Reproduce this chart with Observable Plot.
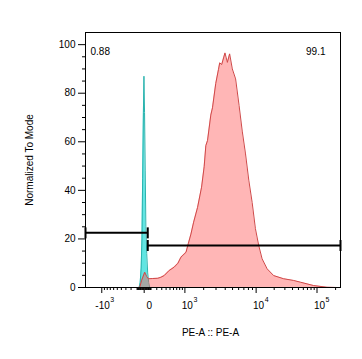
<!DOCTYPE html>
<html><head><meta charset="utf-8">
<script src="https://cdn.jsdelivr.net/npm/d3@7"></script>
<script src="https://cdn.jsdelivr.net/npm/@observablehq/plot@0.6"></script>
<style>html,body{margin:0;padding:0;background:#fff;} svg{display:block;}</style>
</head><body><div id="chart"></div>
<script>
// PE-A intensity (x) and % of mode (y) — stained sample
const redX = [-61,-33,7,35,57,128,219,280,354,478,622,741,847,1046,1144,1268,1402,1618,1860,2032,2151,2276,2536,2679,2975,3240,3374,3590,3973,4274,4581,4968,5480,6077,6675,7349,8085,8918,9800,11059,12610,15274,19642,28670,41741,53640,88128,145104,210384];
const redY = [0,3,6.3,4.5,3.6,3.7,3.8,4.2,4.9,7,8.4,10,12.5,14.5,18,22,26.9,33,41.3,49.7,58.4,60.5,71,74,84,89.7,92.5,91.8,96.6,92.7,96.2,90,85.9,75,64.4,55,44.2,35,24.2,17.3,11.8,7.7,4.9,3.6,2.9,2.2,0.8,0.1,0];
// unstained control
const cyanX = [-69,-54,-40,-29,-20,-10,-3,5,14,23,35,49,64,80];
const cyanY = [0,2,8,20,45,72,87,72,48,25,14,6,2,0];

// gates
const gatePct = ["0.88","99.1"];
const gateLo = [-1800, 50];
const gateHi = [50, 240000];
const gateY = [22.5, 17.3];

// axes
const xDomainValues = [-1800, 240000];
const xMajorTicks = [-1000, 0, 1000, 10000, 100000];
const xMajorBase = ["-10", "0", "10", "10", "10"];
const xMajorExp = ["3", "", "3", "4", "5"];
const xMinorTicks = [
  -900,-800,-700,-600,-500,-400,-300,-200,-100,-90,-80,-70,-60,-50,-40,-30,-20,-10,
  10,20,30,40,50,60,70,80,90,100,200,300,400,500,600,700,800,900,
  2000,3000,4000,5000,6000,7000,8000,9000,
  20000,30000,40000,50000,60000,70000,80000,90000,200000];
const yMajorTicks = [0,20,40,60,80,100];
const yMinorTicks = [5,10,15,25,30,35,45,50,55,65,70,75,85,90,95];
const xLabel = "PE-A :: PE-A";
const yLabel = "Normalized To Mode";

// biexponential-like display transform (FlowJo style axis calibration)
const C = 480;
const g = v => Math.sign(v) * Math.log10(1 + Math.abs(v) / C);
const anchors = [[-1000,-42.5],[0,0],[1000,40.8],[1e4,112.2],[1e5,173.2]].map(([v,u]) => [g(v), u]);
function T(v) {
  const G = g(v);
  let i = 0;
  while (i < anchors.length - 2 && G > anchors[i+1][0]) i++;
  const [g0,u0] = anchors[i], [g1,u1] = anchors[i+1];
  return u0 + (G - g0) * (u1 - u0) / (g1 - g0);
}

const red = redX.map((v,i) => ({t: T(v), y: redY[i]}));
const cyan = cyanX.map((v,i) => ({t: T(v), y: cyanY[i]}));
const gates = gatePct.map((p,i) => ({lo: T(gateLo[i]), hi: T(gateHi[i]), y: gateY[i]}));
const gateEnds = gates.flatMap(d => [{t: d.lo, y: d.y}, {t: d.hi, y: d.y}]);
const vbar = {draw(ctx, size) { const r = Math.sqrt(size / Math.PI); ctx.moveTo(0, -r); ctx.lineTo(0, r); }};
const xLabelsData = xMajorTicks.map((v,i) => ({t: T(v), base: xMajorBase[i], exp: xMajorExp[i]}));

const chart = Plot.plot({
  width: 362, height: 359,
  marginLeft: 85, marginRight: 22, marginTop: 32, marginBottom: 72,
  style: {fontFamily: "'Liberation Sans', Arial, sans-serif", fontSize: "10px", color: "#000", background: "#fff"},
  x: {type: "linear", domain: xDomainValues.map(T)},
  y: {domain: [0, 105]},
  marks: [
    Plot.areaY(cyan, {x: "t", y: "y", fill: "#58e4e0", fillOpacity: 0.95}),
    Plot.lineY(cyan, {x: "t", y: "y", stroke: "#2ab3ae", strokeWidth: 1}),
    Plot.areaY(red, {x: "t", y: "y", fill: "#ff5050", fillOpacity: 0.42}),
    Plot.lineY(red, {x: "t", y: "y", stroke: "#cf4848", strokeWidth: 1}),
    Plot.frame({stroke: "#000"}),
    Plot.ruleY(gates, {x1: "lo", x2: "hi", y: "y", stroke: "#000", strokeWidth: 2}),
    Plot.dot(gateEnds, {x: "t", y: "y", symbol: vbar, r: 5.5, stroke: "#000", strokeWidth: 2}),
    Plot.text([gatePct[0]], {frameAnchor: "top-left", dx: 5, dy: 15, textAnchor: "start"}),
    Plot.text([gatePct[1]], {frameAnchor: "top-right", dx: -15, dy: 15, textAnchor: "end"}),
    Plot.axisX(xMajorTicks.map(T), {tickSize: 6, tickFormat: () => "", label: null}),
    Plot.axisX(xMinorTicks.map(T), {tickSize: 3, tickFormat: () => "", label: null}),
    Plot.text(xLabelsData, {x: "t", text: "base", frameAnchor: "bottom", dy: 14, dx: 8, lineAnchor: "top", textAnchor: "end"}),
    Plot.text(xLabelsData, {x: "t", text: "exp", frameAnchor: "bottom", dy: 10, dx: 8.5, lineAnchor: "top", textAnchor: "start", fontSize: 7}),
    Plot.axisY(yMajorTicks, {tickSize: 7, tickPadding: 3, label: null}),
    Plot.axisY(yMinorTicks, {tickSize: 3, tickFormat: () => "", label: null}),
    Plot.text([yLabel], {frameAnchor: "left", dx: -56, rotate: -90, textAnchor: "middle"}),
    Plot.text([xLabel], {frameAnchor: "bottom", dx: -2.5, dy: 48, textAnchor: "middle"})
  ]
});
document.getElementById("chart").appendChild(chart);
</script>
</body></html>
